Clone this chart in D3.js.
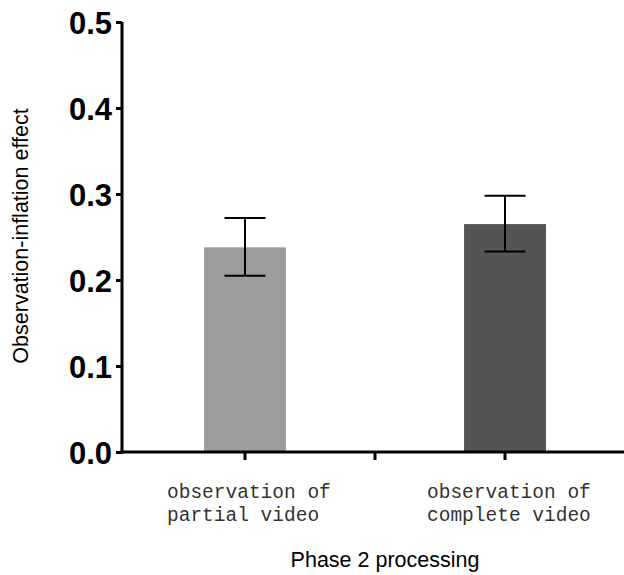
<!DOCTYPE html>
<html><head><meta charset="utf-8">
<script src="https://cdn.jsdelivr.net/npm/d3@7"></script>
<style>body{margin:0;background:#fff}svg{display:block}</style>
</head><body><div id="chart"></div>
<script>
const categories = [["observation of","partial video"],["observation of","complete video"]];
const categoryKeys = ["partial","complete"];
const means = [0.238, 0.265];
const errLow = [0.205, 0.233];
const errHigh = [0.272, 0.298];
const yTicks = [0.0, 0.1, 0.2, 0.3, 0.4, 0.5];
const barColors = ["#9b9c9b", "#545452"];
const yTitle = "Observation-inflation effect";
const xTitle = "Phase 2 processing";

const W = 624, H = 575;
const svg = d3.select("#chart").append("svg").attr("width", W).attr("height", H);

const y = d3.scaleLinear().domain([0, 0.5]).range([452, 22]);
const x = d3.scaleBand().domain(categoryKeys).range([115, 635]).padding(0);
const bw = x.bandwidth() * 0.315;
const cx = k => x(k) + x.bandwidth() / 2;

// bars
svg.selectAll("rect.bar").data(categoryKeys).enter().append("rect")
  .attr("x", d => cx(d) - bw / 2)
  .attr("y", (d, i) => y(means[i]))
  .attr("width", bw)
  .attr("height", (d, i) => y(0) - y(means[i]))
  .attr("fill", (d, i) => barColors[i]);

// error bars
const cap = 41;
categoryKeys.forEach((k, i) => {
  const g = svg.append("g").attr("stroke", "#000").attr("stroke-width", 2);
  g.append("line").attr("x1", cx(k)).attr("x2", cx(k)).attr("y1", y(errHigh[i])).attr("y2", y(errLow[i]));
  g.append("line").attr("x1", cx(k) - cap / 2).attr("x2", cx(k) + cap / 2).attr("y1", y(errHigh[i])).attr("y2", y(errHigh[i]));
  g.append("line").attr("x1", cx(k) - cap / 2).attr("x2", cx(k) + cap / 2).attr("y1", y(errLow[i])).attr("y2", y(errLow[i]));
});

// y axis
const yAxis = svg.append("g").attr("transform", "translate(122,0)")
  .call(d3.axisLeft(y).tickValues(yTicks).tickFormat(d3.format(".1f")).tickSize(6).tickPadding(4));
yAxis.select(".domain").attr("stroke", "#000").attr("stroke-width", 3).attr("d", `M0,${y(0.5)}V${y(0) + 1.5}`);
yAxis.selectAll(".tick line").attr("stroke", "#000").attr("stroke-width", 3);
yAxis.selectAll(".tick text").attr("font-family", "Liberation Sans, Arial, sans-serif")
  .attr("font-weight", "bold").attr("font-size", 31).attr("fill", "#000").attr("dy", "0.36em");

// x axis line
svg.append("line").attr("x1", 120.5).attr("x2", 624).attr("y1", y(0)).attr("y2", y(0))
  .attr("stroke", "#000").attr("stroke-width", 3);
const xTickPos = [cx(categoryKeys[0]), x(categoryKeys[1]), cx(categoryKeys[1])];
svg.selectAll("line.xt").data(xTickPos).enter().append("line")
  .attr("x1", d => d).attr("x2", d => d).attr("y1", y(0)).attr("y2", y(0) + 8)
  .attr("stroke", "#000").attr("stroke-width", 3);

// category labels
categoryKeys.forEach((k, i) => {
  const t = svg.append("text").attr("font-family", "Liberation Mono, Courier New, monospace")
    .attr("font-size", 19.5).attr("fill", "#333");
  categories[i].forEach((line, j) => {
    t.append("tspan").attr("x", cx(k) - 78).attr("y", 498 + j * 23).text(line);
  });
});

// titles
svg.append("text").attr("x", 385).attr("y", 567).attr("text-anchor", "middle")
  .attr("font-family", "Liberation Sans, Arial, sans-serif").attr("font-size", 21.5).attr("fill", "#000")
  .text(xTitle);
svg.append("text").attr("transform", "translate(28,236) rotate(-90)").attr("text-anchor", "middle")
  .attr("font-family", "Liberation Sans, Arial, sans-serif").attr("font-size", 21.5).attr("fill", "#000")
  .text(yTitle);
</script>
</body></html>
